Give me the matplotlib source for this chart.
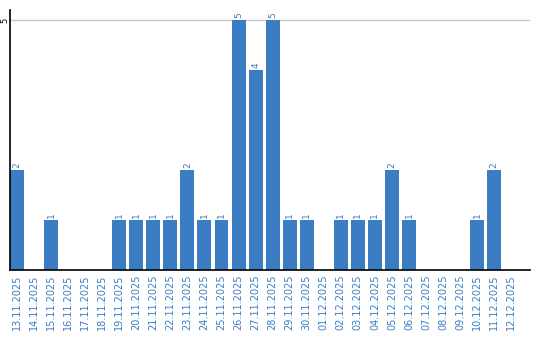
import matplotlib
matplotlib.use("Agg")
import matplotlib.pyplot as plt

# ---------- Datos ----------
dates = [
    "13.11.2025", "14.11.2025", "15.11.2025", "16.11.2025", "17.11.2025",
    "18.11.2025", "19.11.2025", "20.11.2025", "21.11.2025", "22.11.2025",
    "23.11.2025", "24.11.2025", "25.11.2025", "26.11.2025", "27.11.2025",
    "28.11.2025", "29.11.2025", "30.11.2025", "01.12.2025", "02.12.2025",
    "03.12.2025", "04.12.2025", "05.12.2025", "06.12.2025", "07.12.2025",
    "08.12.2025", "09.12.2025", "10.12.2025", "11.12.2025", "12.12.2025",
]
counts = [2, 0, 1, 0, 0, 0, 1, 1, 1, 1, 2, 1, 1, 5, 4, 5, 1, 1, 0, 1,
          1, 1, 2, 1, 0, 0, 0, 1, 2, 0]
y_ticks = [5]

BLUE = "#3b7dc3"

fig = plt.figure(figsize=(5.4, 3.4), dpi=100)
ax = fig.add_axes([10 / 540, 70 / 340, 520 / 540, 260 / 340])

x = list(range(len(dates)))
ax.bar(x, counts, width=0.82, color=BLUE, zorder=2)

# Etiquetas de valor
for xi, v in zip(x, counts):
    if v > 0:
        ax.text(xi, v + 0.05, str(v), rotation=90, ha="center", va="bottom",
                color=BLUE, fontsize=6.5)

ax.set_xlim(-0.41, 30.1)
ax.set_ylim(0, 5.2)
ax.set_xticks(x)
ax.set_xticklabels(dates, rotation=90, color=BLUE, fontsize=7)
ax.set_yticks(y_ticks)
ax.set_yticklabels([str(t) for t in y_ticks], rotation=90, va="center", fontsize=6)
ax.tick_params(axis="x", length=0, pad=3)
ax.tick_params(axis="y", length=0, pad=0.5)
ax.yaxis.grid(True, color="#c8c8c8", linewidth=1, zorder=0)

for side in ("top", "right"):
    ax.spines[side].set_visible(False)
ax.spines["left"].set_linewidth(1.2)
ax.spines["bottom"].set_linewidth(1.2)

fig.savefig("out.png", dpi=100)
plt.close(fig)
